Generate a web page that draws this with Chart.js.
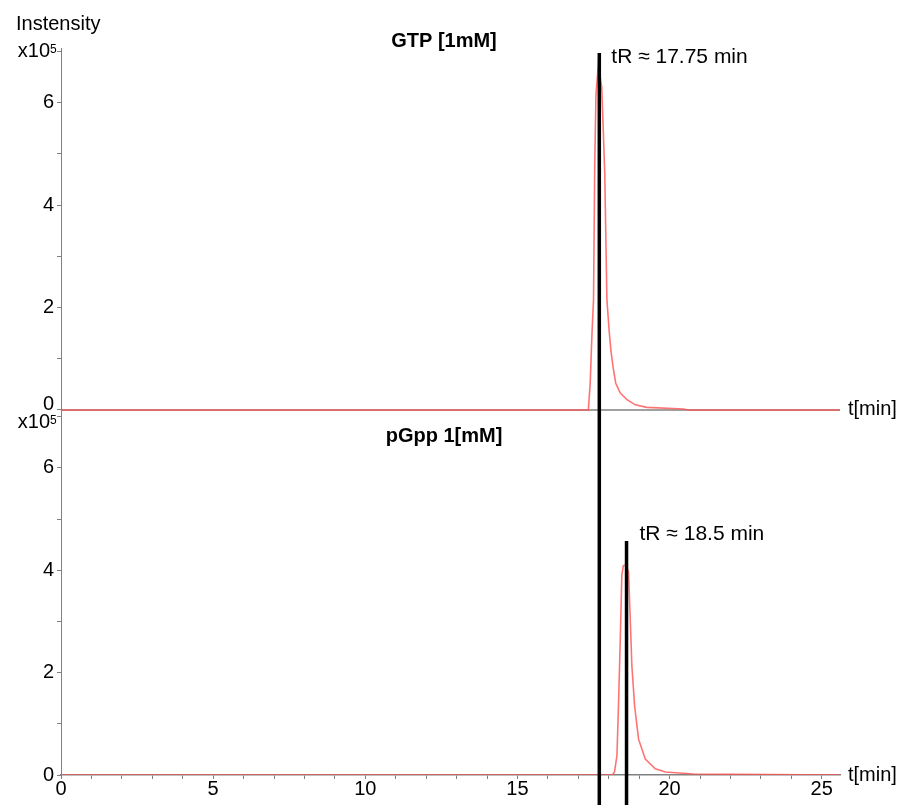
<!DOCTYPE html>
<html>
<head>
<meta charset="utf-8">
<script src="https://cdn.jsdelivr.net/npm/chart.js@4.4.0/dist/chart.umd.min.js"></script>
<style>
html,body{margin:0;padding:0;background:#ffffff;}
#wrap{width:904px;height:805px;position:relative;}
</style>
</head>
<body>
<div id="wrap"><canvas id="c" width="904" height="805"></canvas></div>
<script>
// ---- data (intensity in units of 10^5) ----
const gtpTime = [0, 17.33, 17.39, 17.45, 17.50, 17.54, 17.58, 17.66, 17.77, 17.83, 17.87, 17.94, 18.02, 18.07, 18.14, 18.23, 18.38, 18.60, 18.87, 19.25, 20.46, 20.6, 25.6];
const gtpIntensity = [0, 0, 0.52, 1.5, 2.15, 4.8, 6.15, 6.75, 6.3, 5.3, 4.6, 2.15, 1.5, 1.17, 0.85, 0.52, 0.33, 0.20, 0.10, 0.05, 0.02, 0, 0];
const pgppTime = [0, 18.12, 18.19, 18.27, 18.32, 18.38, 18.43, 18.48, 18.56, 18.65, 18.71, 18.76, 18.85, 18.98, 19.20, 19.53, 19.86, 20.78, 25.6];
const pgppIntensity = [0, 0, 0.06, 0.38, 1.35, 2.66, 3.9, 4.09, 4.1, 3.97, 2.99, 2.14, 1.35, 0.70, 0.31, 0.12, 0.06, 0.02, 0];
const xTicks = [0,1,2,3,4,5,6,7,8,9,10,11,12,13,14,15,16,17,18,19,20,21,22,23,24,25];
const yTicks = [0,1,2,3,4,5,6,7];
const panelTitles = ['GTP [1mM]', 'pGpp 1[mM]'];
const markerTimes = [17.69, 18.585];
const markerTops = [6.97, 4.57];
const markerLabels = ['tR \u2248 17.75 min', 'tR \u2248 18.5 min'];
const yAxisTitle = 'Instensity';
const xAxisTitle = 't[min]';

const FONT = '"Liberation Sans", Arial, Helvetica, sans-serif';
const GRAY = '#808080';
const RED = 'rgba(255,80,80,0.8)';

function pts(t, v) { return t.map((x, i) => ({x: x, y: v[i]})); }

const annotate = {
  id: 'annotate',
  beforeDatasetsDraw(chart) {
    const {ctx, chartArea, scales} = chart;
    const y0 = scales.yTop.getPixelForValue(0);
    ctx.save();
    ctx.strokeStyle = GRAY;
    ctx.lineWidth = 1.5;
    ctx.beginPath();
    ctx.moveTo(chartArea.left, y0);
    ctx.lineTo(chartArea.right, y0);
    ctx.stroke();
    ctx.restore();
  },
  afterDraw(chart) {
    const {ctx, chartArea, scales} = chart;
    const xs = scales.x, yt = scales.yTop, yb = scales.yBottom;
    const H = chart.height;
    ctx.save();
    // marker lines
    ctx.strokeStyle = '#000';
    ctx.lineWidth = 3.5;
    const tops = [yt.getPixelForValue(markerTops[0]), yb.getPixelForValue(markerTops[1])];
    for (let i = 0; i < markerTimes.length; i++) {
      const px = xs.getPixelForValue(markerTimes[i]);
      ctx.beginPath();
      ctx.moveTo(px, tops[i]);
      ctx.lineTo(px, H);
      ctx.stroke();
    }
    ctx.fillStyle = '#000';
    ctx.textBaseline = 'middle';
    ctx.textAlign = 'left';
    // marker labels
    ctx.font = '21px ' + FONT;
    ctx.fillText(markerLabels[0], xs.getPixelForValue(markerTimes[0]) + 12, tops[0] + 4);
    ctx.fillText(markerLabels[1], xs.getPixelForValue(markerTimes[1]) + 13, tops[1] - 7);
    // axis titles
    ctx.font = '20px ' + FONT;
    ctx.fillText(yAxisTitle, 16, 24);
    ctx.fillText(xAxisTitle, chartArea.right + 8, yt.getPixelForValue(0));
    ctx.fillText(xAxisTitle, chartArea.right + 8, yb.getPixelForValue(0));
    // special y labels
    ctx.textAlign = 'right';
    ctx.fillText('0', 54, yt.getPixelForValue(0) - 5);
    const e1 = yt.getPixelForValue(7), e2 = yb.getPixelForValue(7) + 6;
    [e1, e2].forEach(function(y) {
      ctx.font = '20px ' + FONT;
      ctx.textAlign = 'right';
      ctx.textBaseline = 'middle';
      ctx.fillText('x10', 50, y);
      ctx.font = '12px ' + FONT;
      ctx.textAlign = 'left';
      ctx.textBaseline = 'top';
      ctx.fillText('5', 50, y - 8);
    });
    // panel titles
    ctx.font = 'bold 20px ' + FONT;
    ctx.textAlign = 'center';
    ctx.textBaseline = 'middle';
    ctx.fillText(panelTitles[0], 444, 41);
    ctx.fillText(panelTitles[1], 444, 436);
    ctx.restore();
  }
};

function yAxis(min, max, weight, labelFn) {
  return {
    type: 'linear',
    position: 'left',
    stack: 'panels',
    stackWeight: 1,
    weight: weight,
    min: min,
    max: max,
    afterBuildTicks: function(s) { s.ticks = yTicks.map(v => ({value: v})); },
    afterFit: function(s) { s.width = 61; },
    ticks: {
      callback: labelFn,
      color: '#000',
      font: {family: FONT, size: 20, lineHeight: 1},
      padding: 3,
      autoSkip: false
    },
    grid: {drawOnChartArea: false, drawTicks: true, tickLength: 4, tickColor: GRAY, tickWidth: 1},
    border: {display: true, color: GRAY, width: 1}
  };
}

new Chart(document.getElementById('c'), {
  type: 'line',
  data: {
    datasets: [
      {label: panelTitles[0], data: pts(gtpTime, gtpIntensity), yAxisID: 'yTop', xAxisID: 'x',
       borderColor: RED, borderWidth: 1.6, pointRadius: 0, tension: 0, fill: false},
      {label: panelTitles[1], data: pts(pgppTime, pgppIntensity), yAxisID: 'yBottom', xAxisID: 'x',
       borderColor: RED, borderWidth: 1.6, pointRadius: 0, tension: 0, fill: false}
    ]
  },
  options: {
    responsive: false,
    animation: false,
    devicePixelRatio: 1,
    layout: {padding: {left: 0, right: 64, top: 48, bottom: 0}},
    plugins: {legend: {display: false}, tooltip: {enabled: false}, title: {display: false}},
    scales: {
      x: {
        type: 'linear',
        position: 'bottom',
        min: 0,
        max: 25.6,
        afterBuildTicks: function(s) { s.ticks = xTicks.map(v => ({value: v})); },
        afterFit: function(s) { s.height = 30; },
        ticks: {
          callback: v => (v % 5 === 0 ? String(v) : ''),
          color: '#000',
          font: {family: FONT, size: 20, lineHeight: 1},
          padding: 0,
          maxRotation: 0,
          autoSkip: false
        },
        grid: {drawOnChartArea: false, drawTicks: true, tickLength: 4, tickColor: GRAY},
        border: {display: true, color: GRAY, width: 1.5}
      },
      yBottom: yAxis(0, 7.1, 1, v => (v % 2 === 0 ? String(v) : '')),
      yTop: yAxis(-0.03, 7.07, 2, v => (v % 2 === 0 && v !== 0 ? String(v) : ''))
    }
  },
  plugins: [annotate]
});
</script>
</body>
</html>
